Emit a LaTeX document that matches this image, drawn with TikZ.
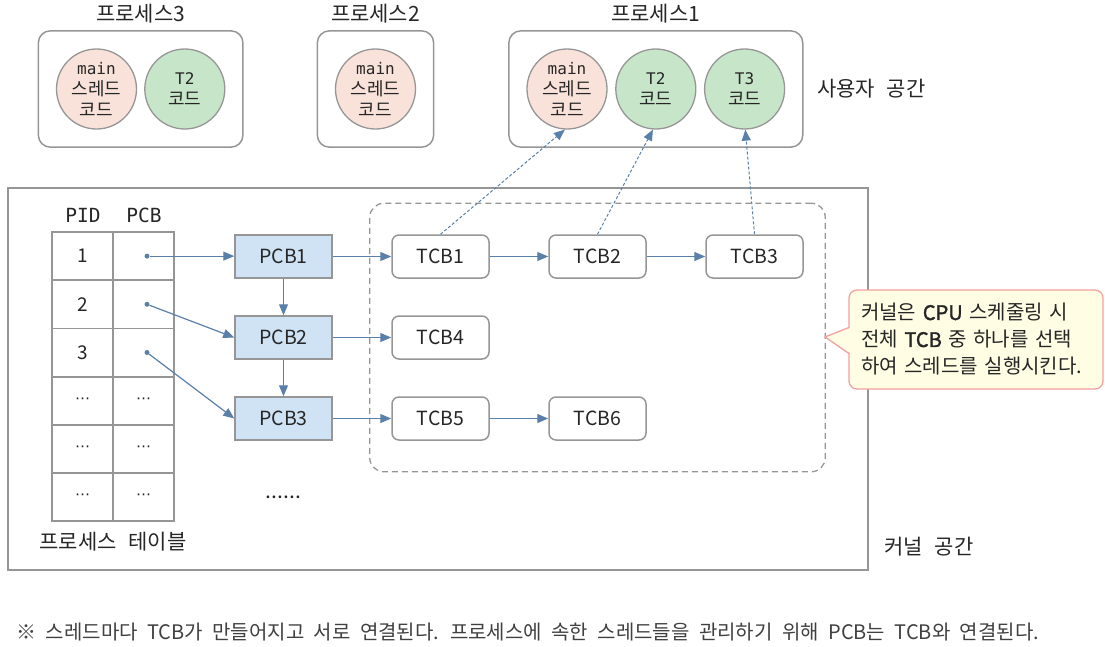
\documentclass[tikz,border=0pt]{standalone}
\usepackage{fontspec}
\setmainfont{Noto Sans CJK KR}
\newfontfamily\monofont{DejaVu Sans Mono}
\newfontfamily\symfont{DejaVu Sans}
\newfontfamily\notebold[FakeBold=1.6]{Noto Sans CJK KR}
\usepackage{xcolor}
\definecolor{cLine}{HTML}{5A7FA8}
\definecolor{cGray}{HTML}{969696}
\definecolor{cText}{HTML}{262626}
\definecolor{cMainT}{HTML}{F9E2DA}
\definecolor{cSubT}{HTML}{C7E5C8}
\definecolor{cPcb}{HTML}{CFE3F5}
\definecolor{cNoteFill}{HTML}{FFFDE4}
\definecolor{cNoteLine}{HTML}{F2A0A0}
\usepackage{tikz}
\usetikzlibrary{positioning,arrows.meta,fit,backgrounds}
\newcommand{\fsz}[2]{\fontsize{#1pt}{#2pt}\selectfont}
\newcommand{\widesp}[1]{\spaceskip=#1\fontdimen2\font\relax}
\newcommand{\dts}{{\symfont\fsz{15}{15}⋯}}
\newcommand{\hl}[1]{{\notebold #1}}
\tikzset{
  node-proc/.style={draw=cGray,line width=1.5pt,rounded corners=12pt,inner sep=17.5pt},
  node-thread/.style={draw=cGray,line width=1.3pt,circle,minimum size=80pt,
    inner sep=0pt,align=center,font=\fsz{18}{21}},
  node-main/.style={node-thread,fill=cMainT},
  node-sub/.style={node-thread,fill=cSubT},
  node-title/.style={font=\fsz{21}{21}\widesp{2.5}},
  node-cell/.style={draw=cGray,line width=1.8pt,minimum width=61pt,minimum height=48.2pt,
    inner sep=0pt,outer sep=0pt,font=\fsz{19}{19}},
  node-dot/.style={circle,fill=cLine,inner sep=0pt,minimum size=5pt},
  node-pcb/.style={draw=cGray,line width=1.5pt,fill=cPcb,minimum width=97pt,
    minimum height=43pt,inner sep=0pt,font=\fsz{19.5}{19.5}},
  node-tcb/.style={draw=cGray,line width=1.5pt,fill=white,rounded corners=7pt,
    minimum width=97pt,minimum height=43pt,inner sep=0pt,font=\fsz{19.5}{19.5}},
  node-group/.style={draw=cGray,line width=1.3pt,dash pattern=on 6pt off 4pt,
    rounded corners=14pt,inner xsep=21.5pt,inner ysep=31pt},
  node-note/.style={draw=cNoteLine,line width=1.3pt,fill=cNoteFill,rounded corners=8pt,
    minimum width=254pt,minimum height=99pt,outer sep=0pt,text width=230pt,
    align=left,font=\fsz{20}{27}\widesp{2.4}},
  arrow/.style={-{Triangle[length=11pt,width=9pt]},line width=1.2pt,draw=cLine},
  arrow-dot/.style={arrow,dash pattern=on 3pt off 2pt,line width=1pt},
}

\begin{document}
\begin{tikzpicture}[x=1pt,y=-1pt,node distance=36.5pt and 58.5pt,text=cText]
  \useasboundingbox (0,0) rectangle (1105,646);
  % kernel space
  \node[draw=cGray,line width=1.8pt,minimum width=860pt,minimum height=382pt] (kernel) at (438,379) {};
  \node[node-title] (kernel-lbl) at (929,547) {커널 공간};

  % user space: processes
  \node[node-main] (p3main) at (96.5,89) {{\monofont\fsz{16}{21}main}\\스레드\\코드};
  \node[node-sub,right=7pt of p3main] (p3t2) {{\monofont\fsz{16}{21}T2}\\코드};
  \node[node-main] (p2main) at (375.5,89) {{\monofont\fsz{16}{21}main}\\스레드\\코드};
  \node[node-main] (p1main) at (567,89) {{\monofont\fsz{16}{21}main}\\스레드\\코드};
  \node[node-sub,right=7.5pt of p1main] (p1t2) {{\monofont\fsz{16}{21}T2}\\코드};
  \node[node-sub,right=7.5pt of p1t2] (p1t3) {{\monofont\fsz{16}{21}T3}\\코드};
  \node[node-proc,fit=(p3main)(p3t2)] (proc3) {};
  \node[node-proc,fit=(p2main)] (proc2) {};
  \node[node-proc,fit=(p1main)(p1t3)] (proc1) {};
  \node[node-title,above=3pt of proc3] (proc3-lbl) {프로세스3};
  \node[node-title,above=3pt of proc2] (proc2-lbl) {프로세스2};
  \node[node-title,above=3pt of proc1] (proc1-lbl) {프로세스1};
  \node[node-title,right=10pt of proc1] (user-lbl) {사용자 공간};

  % process table
  \node[font=\monofont\fsz{19.5}{19.5}] (pid-hd) at (83,215) {PID};
  \node[font=\monofont\fsz{19.5}{19.5}] (pcb-hd) at (144,215) {PCB};
  \foreach \pid/\ptr [count=\i] in {1/{},2/{},3/{},\dts/\dts,\dts/\dts,\dts/\dts} {
    \node[node-cell] (pid-\i) at (82.5,{207.9+48.2*\i}) {\pid};
    \node[node-cell,right=0pt of pid-\i] (ptr-\i) {\ptr};
  }
  \foreach \i in {1,2,3}
    \node[node-dot] (dot-\i) at ([xshift=3.5pt]ptr-\i.center) {};
  \node[node-title] (table-lbl) at (113,542) {프로세스 테이블};

  % PCB / TCB
  \node[node-pcb] (pcb1) at (283.5,256.5) {PCB1};
  \node[node-pcb,below=of pcb1] (pcb2) {PCB2};
  \node[node-pcb,below=of pcb2] (pcb3) {PCB3};
  \node[font=\fsz{21}{21}] (pcb-more) at (283.5,497) {......};
  \node[node-tcb,right=of pcb1] (tcb1) {TCB1};
  \node[node-tcb,right=of tcb1] (tcb2) {TCB2};
  \node[node-tcb,right=of tcb2] (tcb3) {TCB3};
  \node[node-tcb,right=of pcb2] (tcb4) {TCB4};
  \node[node-tcb,right=of pcb3] (tcb5) {TCB5};
  \node[node-tcb,right=of tcb5] (tcb6) {TCB6};
  \begin{scope}[on background layer]
    \node[node-group,fit=(tcb1)(tcb3)(tcb5)] (tcb-all) {};
  \end{scope}

  \draw[arrow] (dot-1) -- (pcb1.west |- dot-1);
  \draw[arrow] (dot-2) -- (pcb2.west);
  \draw[arrow] (dot-3) -- (pcb3.west);
  \draw[arrow] (pcb1) -- (pcb2); \draw[arrow] (pcb2) -- (pcb3);
  \draw[arrow] (pcb1) -- (tcb1); \draw[arrow] (pcb2) -- (tcb4);
  \draw[arrow] (pcb3) -- (tcb5);
  \draw[arrow] (tcb1) -- (tcb2); \draw[arrow] (tcb2) -- (tcb3);
  \draw[arrow] (tcb5) -- (tcb6);
  \draw[arrow-dot] (tcb1.north) -- (p1main.-93);
  \draw[arrow-dot] (tcb2.north) -- (p1t2.-94);
  \draw[arrow-dot] (tcb3.north) -- (p1t3.-89);

  % note
  \node[node-note] (note) at (976,339.5)
    {커널은 \hl{CPU} 스케줄링 시\\전체 \hl{TCB} 중 하나를 선택\\하여 스레드를 실행시킨다.};
  \coordinate (note-tip) at (825,337);
  \fill[cNoteFill] ([xshift=2pt,yshift=-14pt]note.west) -- (note-tip)
    -- ([xshift=2pt,yshift=12pt]note.west) -- cycle;
  \draw[cNoteLine,line width=1.3pt] ([yshift=-14pt]note.west) -- (note-tip)
    -- ([yshift=12pt]note.west);

  % caption
  \node[anchor=west,font=\fsz{20}{20}\widesp{2.1},text=black!75] (caption) at (13,632)
    {※ 스레드마다 TCB가 만들어지고 서로 연결된다. 프로세스에 속한 스레드들을 관리하기 위해 PCB는 TCB와 연결된다.};
\end{tikzpicture}
\end{document}
